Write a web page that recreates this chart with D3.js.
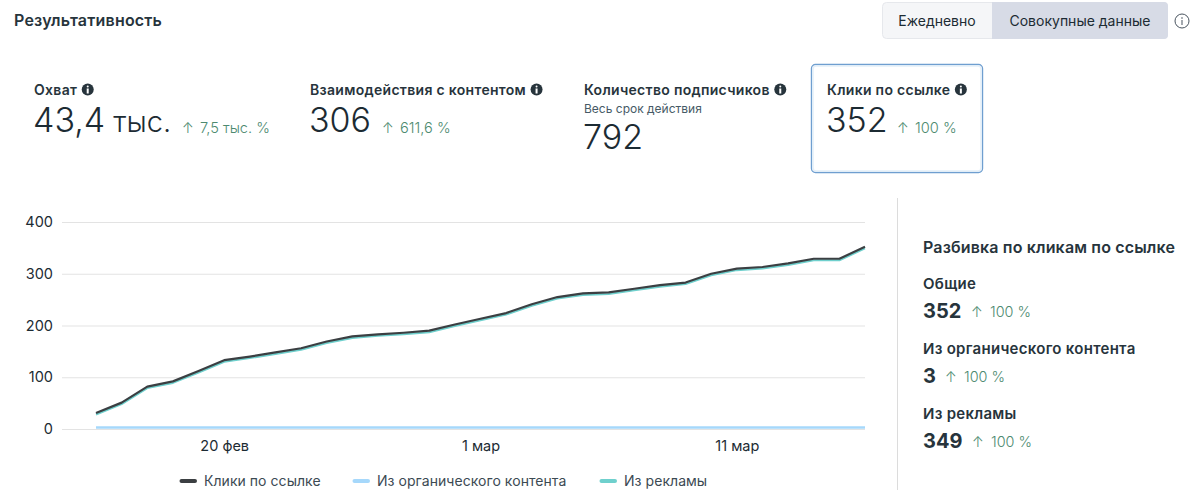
<!DOCTYPE html>
<html lang="ru"><head><meta charset="utf-8">
<script src="https://cdn.jsdelivr.net/npm/d3@7"></script>
<style>
html,body{margin:0;padding:0;background:#fff}
svg{display:block}
text{font-family:Inter,"Noto Sans",sans-serif;fill:#1c2b33}
</style></head><body><div id="chart"></div>
<script>
const dates=["2024-02-15","2024-02-16","2024-02-17","2024-02-18","2024-02-19","2024-02-20","2024-02-21","2024-02-22","2024-02-23","2024-02-24","2024-02-25","2024-02-26","2024-02-27","2024-02-28","2024-02-29","2024-03-01","2024-03-02","2024-03-03","2024-03-04","2024-03-05","2024-03-06","2024-03-07","2024-03-08","2024-03-09","2024-03-10","2024-03-11","2024-03-12","2024-03-13","2024-03-14","2024-03-15","2024-03-16"];
const clicks=[31,51,82,92,112,133,140,148,156,169,179,183,186,190,202,213,224,241,255,262,264,271,278,283,300,310,313,320,329,329,352];
const organic=[3,3,3,3,3,3,3,3,3,3,3,3,3,3,3,3,3,3,3,3,3,3,3,3,3,3,3,3,3,3,3];
const ads=[28,48,79,89,109,130,137,145,153,166,176,180,183,187,199,210,221,238,252,259,261,268,275,280,297,307,310,317,326,326,349];
const yTicks=[0,100,200,300,400];
const xTickDates=["2024-02-20","2024-03-01","2024-03-11"];
const xTickLabels=["20 фев","1 мар","11 мар"];
const legendLabels=["Клики по ссылке","Из органического контента","Из рекламы"];
const seriesColors=["#3b3f42","#a6d8fb","#6fd0cd"];
const metrics=[
 {x:34,title:"Охват",value:"43,4",unit:" тыс.",delta:"7,5 тыс. %",arrowX:182,vy:132},
 {x:310,title:"Взаимодействия с контентом",value:"306",delta:"611,6 %",arrowX:382,vy:132},
 {x:584,title:"Количество подписчиков",sub:"Весь срок действия",value:"792",vy:149},
 {x:827,title:"Клики по ссылке",value:"352",delta:"100 %",arrowX:897,vy:132}];
const breakdown=[
 {label:"Общие",value:"352",arrowX:971,ly:289,vy:318},
 {label:"Из органического контента",value:"3",arrowX:945,ly:354,vy:383},
 {label:"Из рекламы",value:"349",arrowX:972,ly:419,vy:448}];

const parse=d3.utcParse("%Y-%m-%d");
const W=1200,H=495;
const svg=d3.select("#chart").append("svg").attr("width",W).attr("height",H);
const green="#4d8a70";
const txt=(x,y,s,size,weight,color,anchor,ls)=>svg.append("text").attr("x",x).attr("y",y).attr("font-size",size).attr("font-weight",weight||400).attr("text-anchor",anchor||"start").attr("letter-spacing",ls||0).style("fill",color||"#1c2b33").text(s);
const info=(cx,cy)=>{
 svg.append("circle").attr("cx",cx).attr("cy",cy).attr("r",6).attr("fill","#27343c");
 svg.append("circle").attr("cx",cx).attr("cy",cy-3).attr("r",1).attr("fill","#fff");
 svg.append("rect").attr("x",cx-1).attr("y",cy-1).attr("width",2).attr("height",5).attr("fill","#fff");
};

txt(14,26,"Результативность",16,600,"#27343c","start",.2);

// toggle
svg.append("rect").attr("x",882.5).attr("y",2.5).attr("width",285).attr("height",36).attr("rx",4).attr("fill","#f5f6f8").attr("stroke","#e6e8ec");
svg.append("path").attr("d","M992 2H1164a4 4 0 0 1 4 4V35a4 4 0 0 1 -4 4H992Z").attr("fill","#d7dbe6");
txt(937,26,"Ежедневно",14,400,"#1c2b33","middle");
txt(1080,26,"Совокупные данные",14,400,"#1c2b33","middle");
svg.append("circle").attr("cx",1182).attr("cy",21).attr("r",7).attr("fill","none").attr("stroke","#4a5560").attr("stroke-width",1);
svg.append("circle").attr("cx",1182).attr("cy",18).attr("r",.8).attr("fill","#4a5560");
svg.append("rect").attr("x",1181.5).attr("y",20).attr("width",1).attr("height",5).attr("fill","#4a5560");

// selected card
svg.append("rect").attr("x",811.5).attr("y",64.5).attr("width",171).attr("height",108).attr("rx",4).attr("fill","#fff").attr("stroke","#6f9fd0").attr("stroke-width",1.4);
svg.append("rect").attr("x",813).attr("y",66).attr("width",168).attr("height",105).attr("rx",3).attr("fill","none").attr("stroke","#e4eff9").attr("stroke-width",1.5);

metrics.forEach(m=>{
 const t=txt(m.x,94.5,m.title,14,600,"#27343c","start",.3);
 info(m.x+t.node().getComputedTextLength()+10.5,89.5);
 if(m.sub) txt(m.x,113,m.sub,12,400,"#465a66");
 const v=txt(m.x-1,m.vy,m.value,34,300,"#1c2b33");
 if(m.unit) v.append("tspan").attr("font-size",29).text(m.unit);
 if(m.delta){
  txt(m.arrowX,132.5,"↑",14,300,green);
  txt(m.arrowX+18,132.5,m.delta,14.6,300,green);
 }
});

// chart
const margin={left:96,right:865,top:222,bottom:429};
const x=d3.scaleUtc().domain(d3.extent(dates,parse)).range([margin.left,margin.right]);
const y=d3.scaleLinear().domain([0,400]).range([margin.bottom,margin.top]);

const gy=svg.append("g").attr("transform","translate(62,0)").call(d3.axisLeft(y).tickValues(yTicks).tickSize(-803).tickPadding(9));
gy.select(".domain").remove();
gy.selectAll(".tick line").attr("stroke","#e3e3e3").attr("stroke-width",1);
gy.selectAll(".tick text").attr("font-size",14.5).attr("font-family","Inter").style("fill","#1c2b33");

const gx=svg.append("g").attr("transform",`translate(0,${margin.bottom})`).call(d3.axisBottom(x).tickValues(xTickDates.map(parse)).tickSize(0).tickPadding(12).tickFormat((d,i)=>xTickLabels[i]));
gx.select(".domain").remove();
gx.selectAll(".tick text").attr("font-size",14.5).attr("font-family","Inter").style("fill","#1c2b33");

const line=d3.line().x((d,i)=>x(parse(dates[i]))).y(d=>y(d));
[[ads,seriesColors[2],2],[organic,seriesColors[1],2.6],[clicks,seriesColors[0],2.2]].forEach(([vals,color,w])=>{
 svg.append("path").datum(vals).attr("d",line).attr("fill","none").attr("stroke",color).attr("stroke-width",w).attr("stroke-linejoin","round");
});

// legend
[180,353,600].forEach((lx,i)=>{
 svg.append("line").attr("x1",lx+1.5).attr("x2",lx+15).attr("y1",481).attr("y2",481).attr("stroke",seriesColors[i]).attr("stroke-width",4).attr("stroke-linecap","round");
 txt(lx+24,486,legendLabels[i],14,400,"#3c4a53","start",.05);
});

// side panel
svg.append("line").attr("x1",897.5).attr("x2",897.5).attr("y1",198).attr("y2",490).attr("stroke","#dcdcdc");
txt(923,253,"Разбивка по кликам по ссылке",16,600,"#27343c","start",.15);
breakdown.forEach(b=>{
 txt(923,b.ly,b.label,15,600,"#27343c","start",.28);
 txt(923,b.vy,b.value,20,700,"#27343c");
 txt(b.arrowX,b.vy-1,"↑",14,300,green);
 txt(b.arrowX+19,b.vy-1,"100 %",14.4,300,green);
});
</script></body></html>
